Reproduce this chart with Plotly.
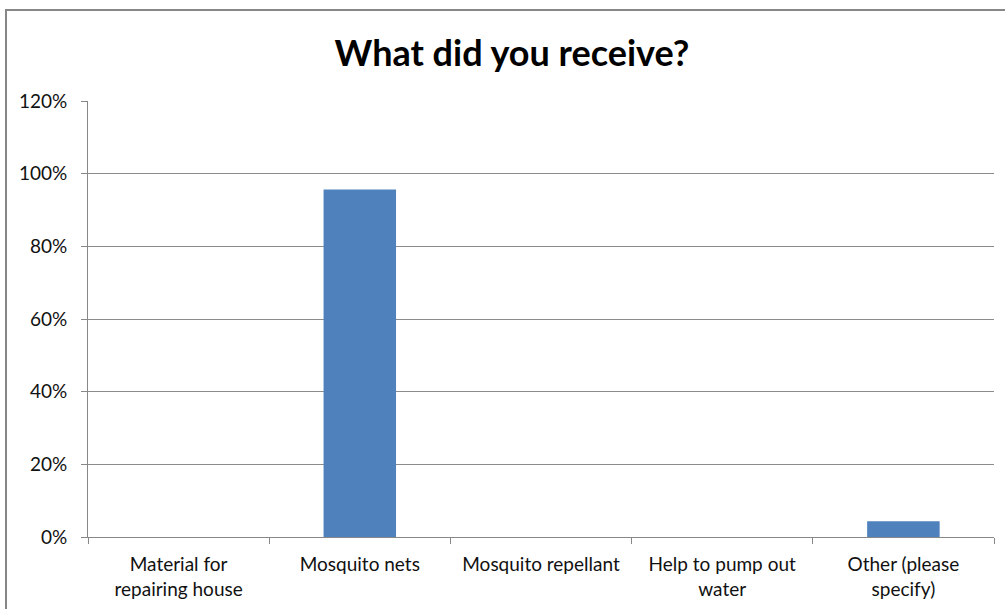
import plotly.graph_objects as go

# Survey responses: share of respondents per item received
categories = [
    "Material for<br>repairing house",
    "Mosquito nets",
    "Mosquito repellant",
    "Help to pump out<br>water",
    "Other (please<br>specify)",
]
shares = [0.0, 22 / 23, 0.0, 0.0, 1 / 23]

y_ticks = [0, 0.2, 0.4, 0.6, 0.8, 1.0, 1.2]
y_tick_text = ["0%", "20%", "40%", "60%", "80%", "100%", "120%"]

W, H = 1005, 609
L, R, T, B = 88, 11, 101, 72
pw, ph = W - L - R, H - T - B

font_family = "Lato, 'Open Sans', sans-serif"

fig = go.Figure(
    go.Bar(
        x=categories,
        y=shares,
        marker=dict(color="#4F81BD", line=dict(width=0)),
        width=0.4,
        hoverinfo="skip",
    )
)

# Chart-area border (frame around whole chart)
fig.add_shape(
    type="rect",
    xref="paper", yref="paper",
    x0=(6 - L) / pw, x1=(W + 20 - L) / pw,
    y0=-(H + 20 - (T + ph)) / ph, y1=1 + (T - 10) / ph,
    line=dict(color="#878787", width=2),
    fillcolor="rgba(0,0,0,0)",
    layer="below",
)

fig.update_layout(
    width=W, height=H,
    margin=dict(l=L, r=R, t=T, b=B, pad=0, autoexpand=False),
    paper_bgcolor="white",
    plot_bgcolor="white",
    showlegend=False,
    title=dict(
        text="<b>What did you receive?</b>",
        x=(512 - L) / pw, xref="paper", xanchor="center",
        y=1 - 53 / H, yref="container", yanchor="middle",
        font=dict(family=font_family, size=36, color="#000000"),
    ),
    font=dict(family=font_family, size=19, color="#111111"),
)

fig.update_xaxes(
    automargin=False,
    showline=True, linecolor="#888888", linewidth=1,
    ticks="outside", ticklen=6, tickcolor="#888888",
    tickson="boundaries",
    showgrid=False,
    ticklabelstandoff=10,
    tickfont=dict(family=font_family, size=19, color="#111111"),
    range=[-0.5, 4.5],
)

fig.update_yaxes(
    automargin=False,
    range=[0, 1.2],
    tickvals=y_ticks, ticktext=y_tick_text,
    showline=True, linecolor="#888888", linewidth=1,
    ticks="outside", ticklen=6, tickcolor="#888888",
    showgrid=True, gridcolor="#8c8c8c", gridwidth=1,
    zeroline=False,
    ticklabelstandoff=10,
    tickfont=dict(family=font_family, size=19, color="#111111"),
)

fig.write_html("out.html")
